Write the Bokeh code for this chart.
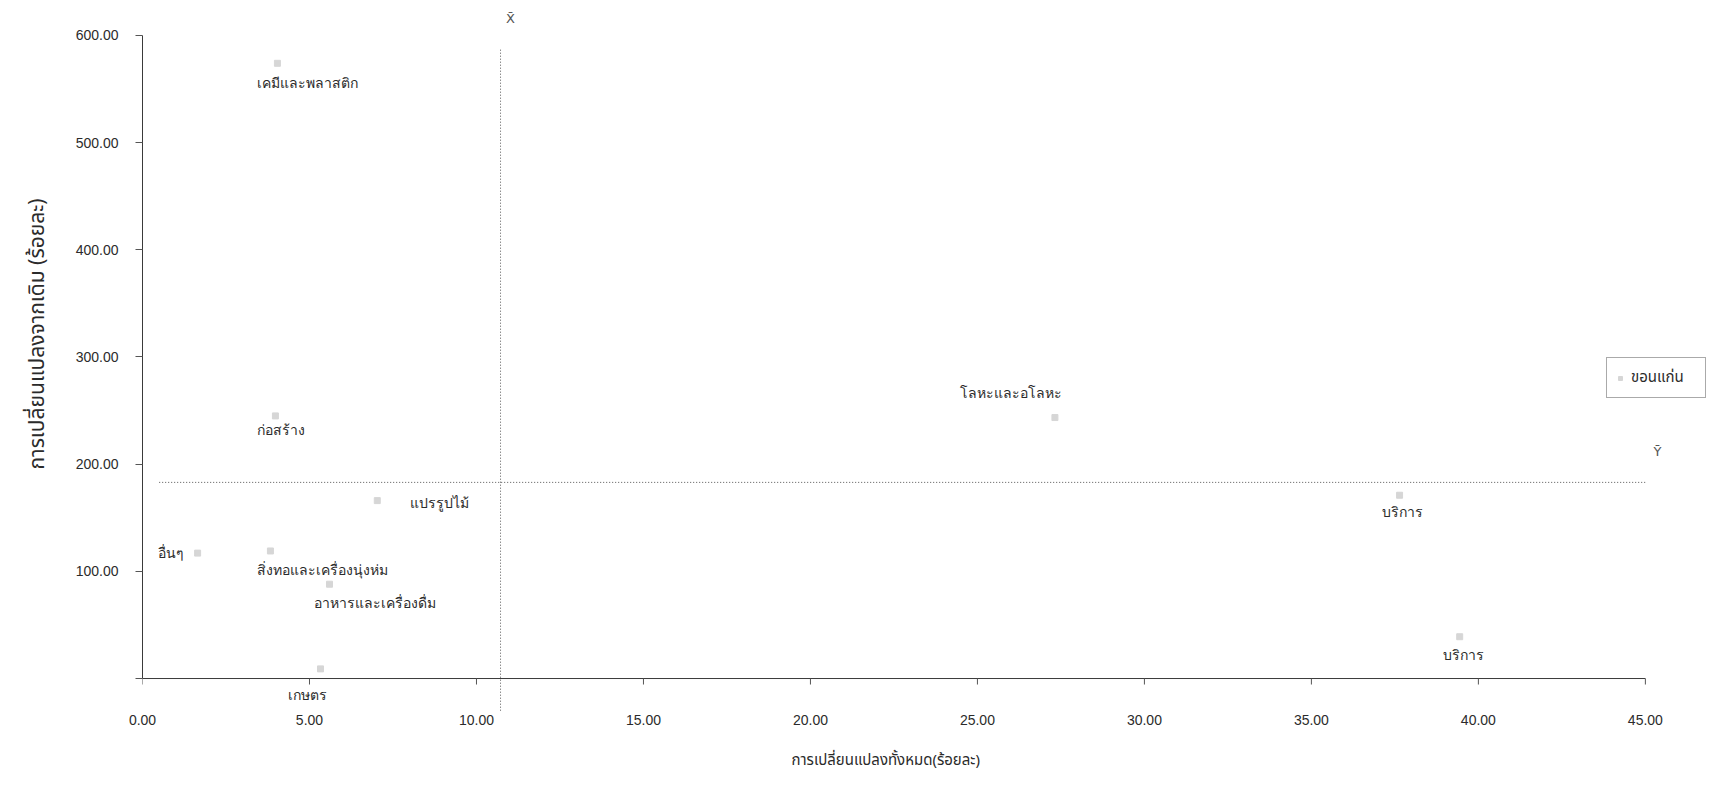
from bokeh.plotting import figure
from bokeh.models import ColumnDataSource, LabelSet, Label, NumeralTickFormatter, FixedTicker, Title
from bokeh.embed import file_html
from bokeh.resources import INLINE

# ---- data ----
sectors = ["เคมีและพลาสติก", "ก่อสร้าง", "แปรรูปไม้", "อื่นๆ", "สิ่งทอและเครื่องนุ่งห่ม",
           "อาหารและเครื่องดื่ม", "เกษตร", "โลหะและอโลหะ", "บริการ", "บริการ"]
total_change = [4.04, 3.98, 7.03, 1.65, 3.83, 5.60, 5.33, 27.32, 37.64, 39.44]
change_from_base = [574.0, 245.0, 166.0, 117.0, 119.0, 88.0, 9.0, 243.5, 171.0, 39.0]
mean_x = 10.72
mean_y = 183.0
x_ticks = [0, 5, 10, 15, 20, 25, 30, 35, 40, 45]
y_ticks = [0, 100, 200, 300, 400, 500, 600]
series_name = "ขอนแก่น"
x_title = "การเปลี่ยนแปลงทั้งหมด(ร้อยละ)"
y_title = "การเปลี่ยนแปลงจากเดิม (ร้อยละ)"

# label placement (screen px offsets, style only)
label_dx = [-20, -18, 33, -40, -13, -16, -33, -95, -18, -17]
label_dy = [-20, -15, -3, 0, -20, -19, -27, 24, -17, -19]

THAI = "Noto Sans Thai, Loma, Garuda, Tlwg Typo, Noto Sans, DejaVu Sans, sans-serif"
NUM = "Liberation Sans"
INK = "#2b2b2b"
AXIS = "#3a3a3a"

src = ColumnDataSource(dict(x=total_change, y=change_from_base, name=sectors,
                            dx=label_dx, dy=label_dy))

X0, X1 = x_ticks[0], x_ticks[-1]
Y0, Y1 = y_ticks[0], y_ticks[-1]

FRAME_W, FRAME_H = 1712 - 142 - 2, 786 - 0 - 74
x_end = 46.95
y_start, y_end = -31.7, 632.6
px_per_y = FRAME_H / (y_end - y_start)

p = figure(width=1712, height=786, x_range=(X0, x_end), y_range=(y_start, y_end),
           output_backend="svg", toolbar_location=None,
           min_border_left=142, min_border_right=2, min_border_top=0, min_border_bottom=74)
p.outline_line_color = None
p.xgrid.visible = False
p.ygrid.visible = False
p.background_fill_color = "white"

# mean lines
p.segment(x0=[mean_x], y0=[-30], x1=[mean_x], y1=[Y1 * 0.98],
          line_color="#555555", line_width=1, line_dash="1 2")
p.segment(x0=[0.5], y0=[mean_y], x1=[X1], y1=[mean_y],
          line_color="#555555", line_width=1, line_dash="1 2")

# x axis line at y = 0 with its tick marks (the axis labels come from the Bokeh axis below)
p.segment(x0=[X0], y0=[Y0], x1=[X1], y1=[Y0], line_color=AXIS, line_width=1)
tick_len = 6 / px_per_y
p.segment(x0=x_ticks, y0=[Y0] * len(x_ticks), x1=x_ticks, y1=[Y0 - tick_len] * len(x_ticks),
          line_color="#555555", line_width=1)

# points
p.scatter("x", "y", source=src, marker="square", size=6, color="#d6d6d6",
          legend_label=series_name)

labels = LabelSet(x="x", y="y", text="name", source=src, x_offset="dx", y_offset="dy",
                  text_font=THAI, text_font_size="14px", text_color=INK,
                  text_align="left", text_baseline="middle")
p.add_layout(labels)

p.add_layout(Label(x=mean_x, y=Y1, text="X\u0304", x_offset=10, y_offset=17,
                   text_font="DejaVu Sans", text_font_size="13px", text_color="#555555",
                   text_align="center", text_baseline="middle"))
p.add_layout(Label(x=X1, y=mean_y, text="Y\u0304", x_offset=12, y_offset=31,
                   text_font="DejaVu Sans", text_font_size="13px", text_color="#555555",
                   text_align="center", text_baseline="middle"))

# axes
for ax in (p.xaxis[0], p.yaxis[0]):
    ax.axis_line_color = AXIS
    ax.major_tick_line_color = "#555555"
    ax.minor_tick_line_color = None
    ax.major_label_text_font = NUM
    ax.major_label_text_font_size = "14px"
    ax.major_label_text_color = INK
    ax.formatter = NumeralTickFormatter(format="0.00")

p.xaxis.ticker = FixedTicker(ticks=x_ticks)
p.yaxis.ticker = FixedTicker(ticks=y_ticks)
p.xaxis.bounds = (X0, X1)
p.yaxis.bounds = (Y0, Y1)
p.xaxis.axis_line_color = None
p.xaxis.major_tick_line_color = None
p.xaxis.major_tick_out = 0
p.xaxis.major_tick_in = 0
p.xaxis.major_label_standoff = 2
p.yaxis.major_tick_out = 7
p.yaxis.major_tick_in = 0
p.yaxis.major_label_standoff = 17
p.yaxis.major_label_overrides = {0: ""}

# axis titles as panel titles so they can be shifted like the reference
p.add_layout(Title(text=" ", standoff=0, text_font=NUM, text_font_size="12px"), "below")
p.add_layout(Title(text=x_title, align="left", offset=649, standoff=10, vertical_align="top",
                   text_font=THAI, text_font_size="15px", text_font_style="normal",
                   text_color=INK), "below")
p.add_layout(Title(text=y_title, align="left", offset=243, standoff=35, vertical_align="top",
                   text_font=THAI, text_font_size="21px", text_font_style="normal",
                   text_color=INK), "left")

# legend
lg = p.legend[0]
lg.location = (1464, 314)
lg.label_text_font = THAI
lg.label_text_font_size = "15px"
lg.label_text_color = INK
lg.glyph_width = 10
lg.glyph_height = 10
lg.label_standoff = 6
lg.label_width = 66
lg.padding = 8
lg.margin = 0
lg.border_line_color = "#555555"
lg.border_line_width = 1
lg.background_fill_alpha = 1

open("out.html", "w").write(file_html(p, INLINE))
